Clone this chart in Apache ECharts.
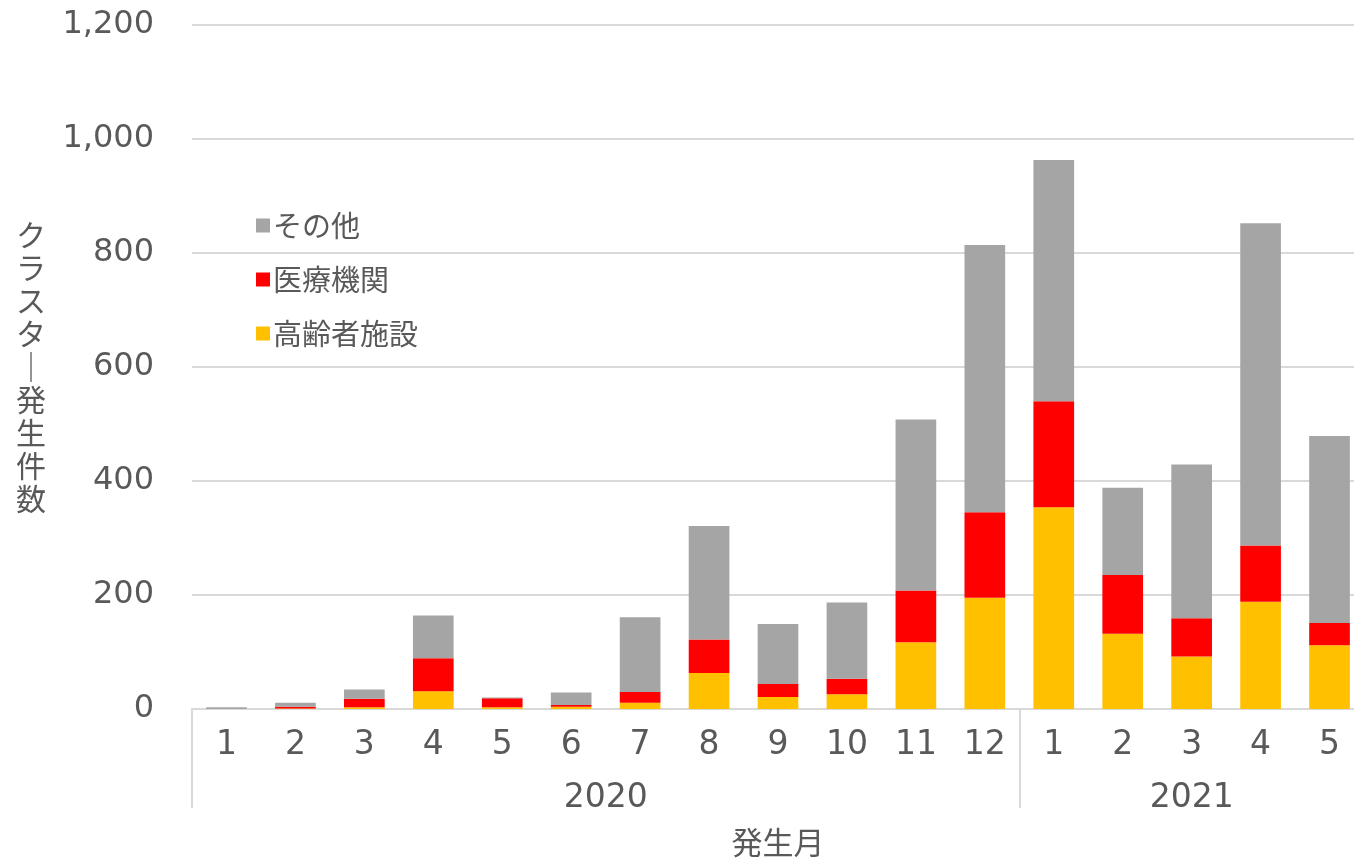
<!DOCTYPE html>
<html>
<head>
<meta charset="utf-8">
<script src="https://cdn.jsdelivr.net/npm/echarts@6/dist/echarts.min.js"></script>
<style>
html,body{margin:0;padding:0;background:#fff;}
#chart{width:1354px;height:860px;}
</style>
</head>
<body>
<div id="chart"></div>
<script>
// ---- data ----
const months = ['1','2','3','4','5','6','7','8','9','10','11','12','1','2','3','4','5'];
const years = ['2020', '2021'];
const monthsPerYear = [12, 5];
const elderly = [0, 1, 3, 31, 3, 4, 11, 63, 21, 26, 117, 195, 354, 132, 92, 188, 112];   // 高齢者施設
const medical = [0, 3, 15, 58, 16, 3, 19, 59, 23, 27, 91, 150, 186, 103, 67, 99, 39];    // 医療機関
const others  = [3, 7, 16, 75, 1, 22, 131, 199, 105, 134, 300, 469, 423, 153, 270, 565, 328]; // その他
const yTicks = [0, 200, 400, 600, 800, 1000, 1200];

// derived helpers for the year row
const yearStarts = [];
const yearCenters = [];
let acc = 0;
monthsPerYear.forEach(n => { yearStarts.push(acc); yearCenters.push(acc + n / 2); acc += n; });

const txt = '#595959';
const grid = '#D9D9D9';
const latin = 'DejaVu Sans, Noto Sans CJK JP, sans-serif';
const cjk = 'Noto Sans CJK JP, sans-serif';

const chart = echarts.init(document.getElementById('chart'));
chart.setOption({
  animation: false,
  backgroundColor: '#ffffff',
  grid: { left: 192, top: 25, width: 1172, height: 684, containLabel: false, outerBoundsMode: 'none' },
  legend: {
    orient: 'vertical',
    left: 251, top: 205,
    icon: 'rect', itemWidth: 14, itemHeight: 14, itemGap: 23,
    data: ['その他', '医療機関', '高齢者施設'],
    textStyle: { fontFamily: cjk, fontSize: 29, color: txt, lineHeight: 31, padding: [0, 0, 0, -2] }
  },
  xAxis: [
    {
      type: 'category',
      data: months,
      position: 'bottom',
      axisLine: { onZero: false, lineStyle: { color: grid, width: 2 } },
      axisTick: { show: false },
      axisLabel: { fontFamily: latin, fontSize: 33, color: txt, margin: 20, interval: 0 }
    },
    {
      type: 'value',
      min: 0, max: acc,
      position: 'bottom',
      axisLine: { show: false, onZero: false },
      splitLine: { show: false },
      axisTick: { show: true, customValues: yearStarts, length: 99, lineStyle: { color: grid, width: 2 } },
      axisLabel: {
        customValues: yearCenters,
        fontFamily: latin, fontSize: 33, color: txt, margin: 73,
        formatter: v => { const i = yearCenters.indexOf(v); return i >= 0 ? years[i] : ''; }
      },
      name: '発生月',
      nameLocation: 'middle',
      nameGap: 118,
      nameTextStyle: { fontFamily: cjk, fontSize: 31, color: txt }
    }
  ],
  yAxis: {
    type: 'value',
    min: yTicks[0], max: yTicks[yTicks.length - 1], interval: yTicks[1] - yTicks[0],
    axisLine: { show: false },
    axisTick: { show: false },
    splitLine: { lineStyle: { color: grid, width: 2 } },
    axisLabel: {
      fontFamily: latin, fontSize: 32, color: txt, margin: 38,
      formatter: v => v.toLocaleString('en-US')
    },
    name: 'ク\nラ\nス\nタ\n｜\n発\n生\n件\n数',
    nameLocation: 'middle',
    nameRotate: 0,
    nameGap: 146,
    nameTextStyle: { fontFamily: cjk, fontSize: 30, color: txt, lineHeight: 33 }
  },
  series: [
    { name: '高齢者施設', type: 'bar', stack: 'total', data: elderly, barWidth: '59%', itemStyle: { color: '#FFC000' } },
    { name: '医療機関', type: 'bar', stack: 'total', data: medical, itemStyle: { color: '#FF0000' } },
    { name: 'その他', type: 'bar', stack: 'total', data: others, itemStyle: { color: '#A5A5A5' } }
  ]
});
</script>
</body>
</html>
